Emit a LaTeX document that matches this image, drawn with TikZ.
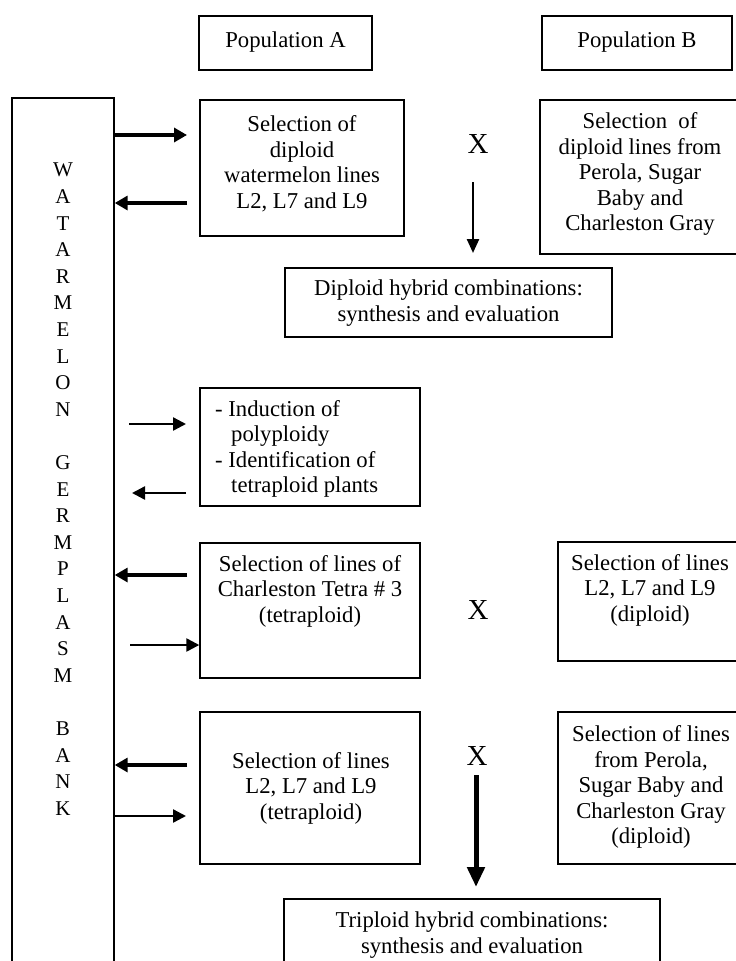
\documentclass[tikz,border=0pt]{standalone}
\usepackage{fontspec}
\setmainfont{Liberation Serif}
\usetikzlibrary{arrows.meta}
\begin{document}
\begin{tikzpicture}[x=1pt,y=-1pt,
  box/.style={draw, line width=1.4pt, inner sep=0pt},
  txt/.style={font=\fontsize{22.7}{25.5}\selectfont, align=center, inner sep=0pt},
  cross/.style={font=\fontsize{29}{30}\selectfont, inner sep=0pt},
  letter/.style={font=\fontsize{21}{24}\selectfont, inner sep=0pt},
  thickarr/.style={line width=3.8pt, -{Triangle[length=13pt,width=14pt]}},
  thinarr/.style={line width=2.4pt, -{Triangle[length=13pt,width=13pt]}},
  bigarr/.style={line width=5pt, -{Triangle[length=20pt,width=17pt]}},
  midarr/.style={line width=2.4pt, -{Triangle[length=14pt,width=12pt]}}
]
\useasboundingbox (0,0) rectangle (736,961);
\clip (0,0) rectangle (736,961);

% boxes
\node[box, minimum width=102pt, minimum height=902pt] (bar) at (63,549) {};
\node[box, minimum width=173pt, minimum height=54pt] (popA) at (285.5,43) {};
\node[box, minimum width=190pt, minimum height=54pt] (popB) at (637,43) {};
\node[box, minimum width=204pt, minimum height=136pt] (selA1) at (302,168) {};
\node[box, minimum width=210pt, minimum height=154pt] (selB1) at (645,177) {};
\node[box, minimum width=327pt, minimum height=69pt] (dip) at (448.5,302.5) {};
\node[box, minimum width=220pt, minimum height=118pt] (ind) at (310,447) {};
\node[box, minimum width=220pt, minimum height=135pt] (cht) at (310,610.5) {};
\node[box, minimum width=192pt, minimum height=119pt] (selB2) at (654,601.5) {};
\node[box, minimum width=220pt, minimum height=152pt] (selA3) at (310,788) {};
\node[box, minimum width=192pt, minimum height=152pt] (selB3) at (654,788) {};
\node[box, minimum width=376pt, minimum height=101pt] (tri) at (472,949.5) {};

% texts
\node[txt] (popAt) at (285.5,42) {Population A};
\node[txt] (popBt) at (637,42) {Population B};
\node[txt] (selA1t) at (302,164) {Selection of\\diploid\\watermelon lines\\L2, L7 and L9};
\node[txt] (selB1t) at (640,174) {Selection~ of\\diploid lines from\\Perola, Sugar\\Baby and\\Charleston Gray};
\node[txt] (dipt) at (448.5,303) {Diploid hybrid combinations:\\synthesis and evaluation};
\node[txt, align=left, anchor=west] (indt) at (215,449) {- Induction of\\\hspace*{16pt}polyploidy\\- Identification of\\\hspace*{16pt}tetraploid plants};
\node[txt] (chtt) at (310,591) {Selection of lines of\\Charleston Tetra \# 3\\(tetraploid)};
\node[txt] (selB2t) at (650,590) {Selection of lines\\L2, L7 and L9\\(diploid)};
\node[txt] (selA3t) at (311,788) {Selection of lines\\L2, L7 and L9\\(tetraploid)};
\node[txt] (selB3t) at (651,787) {Selection of lines\\from Perola,\\Sugar Baby and\\Charleston Gray\\(diploid)};
\node[txt] (trit) at (472,935) {Triploid hybrid combinations:\\synthesis and evaluation};

% crosses
\node[cross] (x1) at (478,144) {X};
\node[cross] (x2) at (478,610) {X};
\node[cross] (x3) at (477,756) {X};

% bar letters
\foreach \l/\i in {W/0,A/1,T/2,A/3,R/4,M/5,E/6,L/7,O/8,N/9,G/11,E/12,R/13,M/14,P/15,L/16,A/17,S/18,M/19,B/21,A/22,N/23,K/24}
  \node[letter] (L\i) at (63,{170+26.6*\i}) {\l};

% free arrow ends
\coordinate (e1) at (187,135);
\coordinate (e2) at (187,203);
\coordinate (e3a) at (129,424);
\coordinate (e3b) at (186,424);
\coordinate (e4a) at (186,493);
\coordinate (e4b) at (132,493);
\coordinate (e5) at (187,575);
\coordinate (e6) at (130,645);
\coordinate (e7) at (187,765);
\coordinate (e8) at (186,816);
\coordinate (v1a) at (473,182);
\coordinate (v1b) at (473,253);
\coordinate (v3a) at (476,775);
\coordinate (v3b) at (476,887);

% connectors
\draw[thickarr] (bar.east |- e1) -- (e1);
\draw[thickarr] (e2) -- (bar.east |- e2);
\draw[thinarr] (e3a) -- (e3b);
\draw[thinarr] (e4a) -- (e4b);
\draw[thickarr] (e5) -- (bar.east |- e5);
\draw[thinarr] (e6) -- (cht.west |- e6);
\draw[thickarr] (e7) -- (bar.east |- e7);
\draw[thinarr] (bar.east |- e8) -- (e8);
\draw[midarr] (v1a) -- (v1b);
\draw[bigarr] (v3a) -- (v3b);
\end{tikzpicture}
\end{document}
